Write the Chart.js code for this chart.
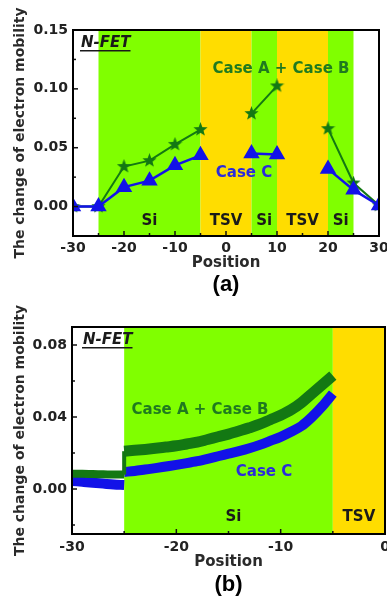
<!DOCTYPE html>
<html>
<head>
<meta charset="utf-8">
<script src="https://cdn.jsdelivr.net/npm/chart.js@4.4.1/dist/chart.umd.min.js"></script>
<style>
  html, body { margin: 0; padding: 0; background: #fff; }
  #wrap { position: relative; width: 387px; height: 601px; overflow: hidden; }
  #ca { position: absolute; left: 0; top: 0; }
  #cb { position: absolute; left: 0; top: 300px; }
</style>
</head>
<body>
<div id="wrap">
  <canvas id="ca" width="387" height="300"></canvas>
  <canvas id="cb" width="387" height="301"></canvas>
</div>
<script>
// ---- (a) values, read every 5 units (null = inside TSV)
const posA = [-30, -25, -20, -15, -10, -5, 0, 5, 10, 15, 20, 25, 30];
const caseABa = [0, 0, 0.034, 0.039, 0.0528, 0.0654, null, 0.079, 0.1025, null, 0.0662, 0.020, 0.001];
const caseCa = [0, 0, 0.0165, 0.022, 0.035, 0.0435, null, 0.045, 0.0443, null, 0.032, 0.0142, 0.001];
const xTicksA = [-30, -20, -10, 0, 10, 20, 30];
const xMinorA = [-25, -15, -5, 5, 15, 25];
const yTicksA = [0, 0.05, 0.10, 0.15];
const yMinorA = [-0.025, 0.025, 0.075, 0.125];
const regFromA = [-25, -5, 5, 10, 20];
const regToA = [-5, 5, 10, 20, 25];
const regNameA = ['Si', 'TSV', 'Si', 'TSV', 'Si'];

// ---- (b) values, read every 1 unit
const preXb = [-30, -29, -28, -27, -26, -25];
const preABb = [0.0085, 0.0085, 0.0083, 0.0082, 0.0080, 0.0080];
const preCb = [0.0045, 0.0040, 0.0035, 0.0030, 0.0025, 0.0022];
const postXb = [-25, -24, -23, -22, -21, -20, -19, -18, -17, -16, -15, -14, -13, -12, -11, -10, -9, -8, -7, -6, -5];
const postABb = [0.021, 0.0215, 0.022, 0.0226, 0.0233, 0.024, 0.025, 0.026, 0.0275, 0.029, 0.0305, 0.0322, 0.034, 0.036, 0.0385, 0.041, 0.044, 0.048, 0.053, 0.058, 0.063];
const postCb = [0.0095, 0.010, 0.0108, 0.0116, 0.0125, 0.0134, 0.0144, 0.0155, 0.0168, 0.0182, 0.0196, 0.021, 0.0226, 0.0245, 0.0267, 0.029, 0.0318, 0.035, 0.040, 0.046, 0.053];
const xTicksB = [-30, -20, -10, 0];
const xMinorB = [-25, -15, -5];
const yTicksB = [0, 0.04, 0.08];
const yMinorB = [-0.02, 0.02, 0.06];
const regFromB = [-25, -5];
const regToB = [-5, 0];
const regNameB = ['Si', 'TSV'];

const GREEN_BG = '#80FF00';
const YELLOW_BG = '#FFDD00';
const DARK_GREEN = '#137813';
const BLUE = '#1212E8';
const FONT = '"DejaVu Sans", sans-serif';

function starImg(size, color) {
  const c = document.createElement('canvas');
  c.width = c.height = size;
  const g = c.getContext('2d');
  const R = size / 2, r = R * 0.42;
  g.beginPath();
  for (let i = 0; i < 10; i++) {
    const ang = -Math.PI / 2 + i * Math.PI / 5;
    const rad = i % 2 ? r : R;
    g.lineTo(R + rad * Math.cos(ang), R + rad * Math.sin(ang));
  }
  g.closePath();
  g.fillStyle = color;
  g.fill();
  return c;
}

function zip(xs, ys) { return xs.map((x, i) => ({ x: x, y: ys[i] })); }

// backgrounds, labels, frame and inside ticks
function makeDeco(cfg) {
  return {
    id: 'deco',
    beforeDatasetsDraw(chart) {
      const { ctx, chartArea: a, scales: { x } } = chart;
      ctx.save();
      cfg.from.forEach((f, i) => {
        const l = x.getPixelForValue(f), r = x.getPixelForValue(cfg.to[i]);
        ctx.fillStyle = cfg.names[i] === 'TSV' ? YELLOW_BG : GREEN_BG;
        ctx.fillRect(l, a.top, r - l, a.bottom - a.top);
      });
      ctx.restore();
    },
    afterDatasetsDraw(chart) {
      const { ctx, chartArea: a, scales: { x } } = chart;
      ctx.save();
      ctx.textAlign = 'center';
      ctx.textBaseline = 'middle';
      ctx.font = 'bold 15px ' + FONT;
      ctx.fillStyle = '#1a1a1a';
      cfg.from.forEach((f, i) => {
        const mid = (x.getPixelForValue(f) + x.getPixelForValue(cfg.to[i])) / 2;
        ctx.fillText(cfg.names[i], mid + (cfg.regDx[i] || 0), a.bottom - cfg.regY);
      });
      cfg.notes.forEach(n => {
        ctx.fillStyle = n.color;
        ctx.fillText(n.text, n.x, n.y);
      });
      // N-FET
      ctx.textAlign = 'left';
      ctx.font = 'italic bold 15px ' + FONT;
      ctx.fillStyle = '#1a1a1a';
      ctx.fillText('N-FET', cfg.nfet[0], cfg.nfet[1]);
      const w = ctx.measureText('N-FET').width;
      ctx.fillRect(cfg.nfet[0] - 1, cfg.nfet[1] + 7, w + 1, 1.5);
      ctx.restore();
    },
    afterDraw(chart) {
      const { ctx, chartArea: a, scales: { x, y } } = chart;
      ctx.save();
      ctx.strokeStyle = '#111';
      ctx.lineWidth = 1.5;
      const tx = (vals, len) => vals.forEach(v => {
        const p = x.getPixelForValue(v);
        ctx.beginPath(); ctx.moveTo(p, a.bottom); ctx.lineTo(p, a.bottom - len); ctx.stroke();
      });
      const ty = (vals, len) => vals.forEach(v => {
        const p = y.getPixelForValue(v);
        ctx.beginPath(); ctx.moveTo(a.left, p); ctx.lineTo(a.left + len, p); ctx.stroke();
      });
      tx(cfg.xMajor, 5); tx(cfg.xMinor, 3);
      ty(cfg.yMajor, 5); ty(cfg.yMinor, 3);
      ctx.lineWidth = 2;
      ctx.strokeStyle = '#000';
      ctx.strokeRect(a.left, a.top, a.right - a.left, a.bottom - a.top);
      ctx.font = 'bold 22px "Liberation Sans", Arial, sans-serif';
      ctx.fillStyle = '#000';
      ctx.textAlign = 'center';
      ctx.textBaseline = 'middle';
      ctx.fillText(cfg.tag, (a.left + a.right) / 2, cfg.tagY);
      ctx.restore();
    }
  };
}

function axes(o) {
  return {
    x: {
      type: 'linear', min: o.xmin, max: o.xmax,
      afterBuildTicks: s => { s.ticks = o.xTicks.map(v => ({ value: v })); },
      afterFit: s => { s.height = o.xh; s.paddingLeft = 0; s.paddingRight = 0; },
      grid: { display: false, drawTicks: false }, border: { display: false },
      ticks: { font: { family: FONT, size: 14, weight: 'bold' }, color: '#222', padding: o.xpad, maxRotation: 0 },
      title: { display: true, text: 'Position', color: '#2a2a2a',
        font: { family: FONT, size: 15, weight: 'bold' }, padding: { top: 0, bottom: o.titlePad } }
    },
    y: {
      type: 'linear', min: o.ymin, max: o.ymax,
      afterBuildTicks: s => { s.ticks = o.yTicks.map(v => ({ value: v })); },
      afterFit: s => { s.width = o.yw; s.paddingTop = 0; s.paddingBottom = 0; },
      grid: { display: false, drawTicks: false }, border: { display: false },
      ticks: { font: { family: FONT, size: 14, weight: 'bold' }, color: '#222', padding: 5,
        callback: v => v.toFixed(2) },
      title: { display: true, text: 'The change of electron mobility', color: '#2a2a2a',
        font: { family: FONT, size: 14, weight: 'bold' }, padding: { top: 12, bottom: 0 } }
    }
  };
}

const star = starImg(15, DARK_GREEN);

new Chart(document.getElementById('ca'), {
  type: 'line',
  data: {
    datasets: [
      { label: 'Case C', data: zip(posA, caseCa), borderColor: BLUE, backgroundColor: BLUE,
        borderWidth: 2.5, pointStyle: 'triangle', pointRadius: 7, spanGaps: false },
      { label: 'Case A + Case B', data: zip(posA, caseABa), borderColor: DARK_GREEN, backgroundColor: DARK_GREEN,
        borderWidth: 2, pointStyle: star, pointRadius: 7, spanGaps: false }
    ]
  },
  options: {
    responsive: false, animation: false,
    layout: { autoPadding: false, padding: { top: 30, right: 8, left: 0, bottom: 0 } },
    plugins: { legend: { display: false }, tooltip: { enabled: false } },
    scales: axes({ xmin: -30, xmax: 30, ymin: -0.025, ymax: 0.15, xTicks: xTicksA, yTicks: yTicksA,
      xh: 64, yw: 73, xpad: 3.6, titlePad: 28 })
  },
  plugins: [makeDeco({
    from: regFromA, to: regToA, names: regNameA, regY: 15, regDx: [],
    notes: [
      { text: 'Case A + Case B', x: 281, y: 69, color: '#1F7A1F' },
      { text: 'Case C', x: 244, y: 173, color: '#2B2BDB' }
    ],
    nfet: [81, 43], tag: '(a)', tagY: 285,
    xMajor: xTicksA, xMinor: xMinorA, yMajor: yTicksA, yMinor: yMinorA
  })]
});

new Chart(document.getElementById('cb'), {
  type: 'line',
  data: {
    datasets: [
      { label: 'Case A + Case B', data: zip(postXb, postABb), borderColor: DARK_GREEN,
        borderWidth: 11, pointRadius: 0, cubicInterpolationMode: 'monotone' },
      { label: 'jump', data: [{ x: -25, y: preABb[preABb.length - 1] }, { x: -25, y: postABb[0] }],
        borderColor: DARK_GREEN, borderWidth: 4, pointRadius: 0 },
      { label: 'Case A + Case B pre', data: zip(preXb, preABb), borderColor: DARK_GREEN,
        borderWidth: 8, pointRadius: 0, cubicInterpolationMode: 'monotone' },
      { label: 'Case C', data: zip(postXb, postCb), borderColor: BLUE,
        borderWidth: 10, pointRadius: 0, cubicInterpolationMode: 'monotone' },
      { label: 'Case C pre', data: zip(preXb, preCb), borderColor: BLUE,
        borderWidth: 10, pointRadius: 0, cubicInterpolationMode: 'monotone' }
    ]
  },
  options: {
    responsive: false, animation: false,
    layout: { autoPadding: false, padding: { top: 27, right: 2, left: 0, bottom: 0 } },
    plugins: { legend: { display: false }, tooltip: { enabled: false } },
    scales: axes({ xmin: -30, xmax: 0, ymin: -0.025, ymax: 0.09, xTicks: xTicksB, yTicks: yTicksB,
      xh: 67, yw: 72, xpad: 4.6, titlePad: 30 })
  },
  plugins: [makeDeco({
    from: regFromB, to: regToB, names: regNameB, regY: 17, regDx: [5, 0],
    notes: [
      { text: 'Case A + Case B', x: 200, y: 110, color: '#1F7A1F' },
      { text: 'Case C', x: 264, y: 172, color: '#2B2BDB' }
    ],
    nfet: [83, 40], tag: '(b)', tagY: 285,
    xMajor: xTicksB, xMinor: xMinorB, yMajor: yTicksB, yMinor: yMinorB
  })]
});
</script>
</body>
</html>
